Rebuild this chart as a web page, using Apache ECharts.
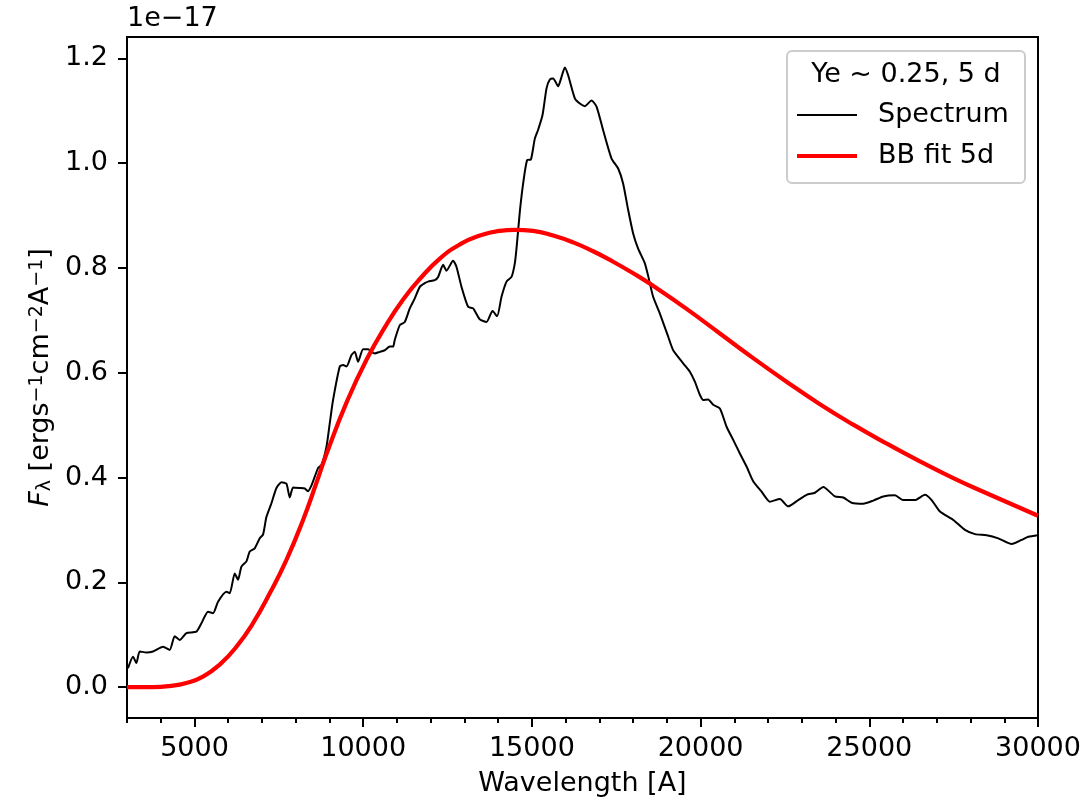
<!DOCTYPE html>
<html>
<head>
<meta charset="utf-8">
<script src="https://cdn.jsdelivr.net/npm/echarts@6/dist/echarts.min.js"></script>
<style>
html,body{margin:0;padding:0;background:#fff;}
#chart{width:1088px;height:802px;}
</style>
</head>
<body>
<div id="chart"></div>
<script>
// Spectrum (wavelength in Angstrom, flux in units of 1e-17)
const specWave = [3030,3178,3279,3377,3575,3771,4067,4266,4414,4562,4761,5057,5206,5401,5550,5698,5947,6045,6193,6291,6392,6540,6638,6786,6934,7032,7133,7281,7429,7578,7726,7824,7922,8120,8268,8366,8467,8663,8763,8912,9010,9107,9306,9404,9505,9653,9751,9849,9997,10145,10246,10343,10492,10640,10788,10886,10937,11085,11233,11381,11529,11678,11826,11924,12122,12221,12369,12468,12665,12766,12914,13110,13258,13457,13655,13833,13969,14100,14248,14396,14494,14545,14642,14740,14859,14969,15087,15185,15315,15434,15532,15630,15778,15879,15977,16075,16273,16421,16569,16768,16916,17112,17361,17557,17705,17853,18001,18149,18348,18446,18594,18793,19039,19188,19484,19682,19830,19978,20077,20225,20373,20572,20770,20966,21164,21363,21559,21808,22054,22350,22597,22893,23142,23388,23636,23981,24228,24476,24820,25117,25413,25760,26006,26353,26649,26848,27094,27489,27835,28132,28478,28823,29220,29516,29713,30000];
const specFlux = [0.036,0.058,0.046,0.068,0.066,0.068,0.077,0.071,0.097,0.090,0.103,0.106,0.122,0.144,0.141,0.163,0.182,0.179,0.217,0.205,0.230,0.240,0.259,0.265,0.284,0.291,0.325,0.351,0.380,0.391,0.388,0.362,0.381,0.380,0.379,0.374,0.385,0.418,0.424,0.459,0.504,0.548,0.612,0.615,0.612,0.634,0.640,0.621,0.645,0.645,0.640,0.637,0.640,0.643,0.650,0.650,0.663,0.691,0.697,0.723,0.742,0.764,0.771,0.774,0.777,0.783,0.806,0.795,0.814,0.802,0.764,0.726,0.723,0.702,0.697,0.718,0.708,0.745,0.774,0.783,0.809,0.838,0.907,0.961,1.006,1.007,1.047,1.064,1.092,1.143,1.160,1.162,1.147,1.165,1.183,1.168,1.124,1.114,1.109,1.120,1.108,1.063,1.009,0.990,0.961,0.911,0.866,0.837,0.809,0.785,0.745,0.713,0.669,0.643,0.618,0.602,0.583,0.558,0.548,0.549,0.539,0.532,0.497,0.472,0.446,0.421,0.393,0.373,0.354,0.359,0.345,0.357,0.367,0.371,0.382,0.364,0.362,0.352,0.350,0.356,0.364,0.366,0.357,0.357,0.367,0.357,0.335,0.319,0.300,0.292,0.290,0.284,0.273,0.281,0.287,0.290];

// Blackbody fit
const bbWave = [3000,3771,4250,4761,5253,5748,6243,6735,7231,7726,8218,8615,8912,9505,10098,10690,11184,11678,12271,12864,13457,14050,14494,15037,15630,16223,16816,17409,18001,18594,19584,20572,21559,22547,23536,24524,25512,26500,27489,28478,30000];
const bbFlux = [0.0,0.0,0.002,0.008,0.020,0.043,0.077,0.122,0.179,0.243,0.319,0.390,0.445,0.543,0.625,0.692,0.740,0.779,0.818,0.845,0.862,0.871,0.873,0.871,0.862,0.849,0.832,0.812,0.790,0.766,0.722,0.675,0.628,0.583,0.540,0.501,0.465,0.431,0.399,0.370,0.327];

const xMajorTicks = [5000,10000,15000,20000,25000,30000];
const yTicks = [0,0.2,0.4,0.6,0.8,1.0,1.2];
const seriesNames = ['Spectrum','BB fit 5d'];
const seriesColors = ['#000000','#ff0000'];
const legendTitle = 'Ye ~ 0.25, 5 d';
const offsetText = '1e\u221217';
const xTitle = 'Wavelength [A]';

const FONT = 'DejaVu Sans';
const FS = 27;
const chart = echarts.init(document.getElementById('chart'), null, {renderer:'canvas'});

const specData = specWave.map((w,i)=>[w,specFlux[i]]);
const bbData = bbWave.map((w,i)=>[w,bbFlux[i]]);

const font = FS + 'px "DejaVu Sans"';

chart.setOption({
  animation:false,
  backgroundColor:'#fff',
  grid:{left:127,right:50,top:37,bottom:84,show:true,borderColor:'#000',borderWidth:2,backgroundColor:'transparent'},
  xAxis:[{
    type:'value',min:3000,max:30000,position:'bottom',
    axisLine:{show:true,onZero:false,lineStyle:{color:'#000',width:2}},
    axisTick:{show:true,customValues:xMajorTicks,length:9,lineStyle:{color:'#000',width:2}},
    axisLabel:{customValues:xMajorTicks,fontFamily:FONT,fontSize:FS,color:'#000',margin:17,
      formatter:v=>String(v)},
    splitLine:{show:false},
    name:xTitle,nameLocation:'middle',nameGap:52,
    nameTextStyle:{fontFamily:FONT,fontSize:FS,color:'#000'}
  },{
    type:'value',min:3000,max:30000,interval:1000,position:'bottom',
    axisLine:{show:false,onZero:false},
    axisTick:{show:true,length:5,lineStyle:{color:'#000',width:2}},
    axisLabel:{show:false},
    splitLine:{show:false}
  }],
  yAxis:{
    type:'value',min:-0.059,max:1.241,
    axisLine:{show:true,onZero:false,lineStyle:{color:'#000',width:2}},
    axisTick:{show:true,customValues:yTicks,length:9,lineStyle:{color:'#000',width:2}},
    axisLabel:{customValues:yTicks,fontFamily:FONT,fontSize:FS,color:'#000',margin:19,
      formatter:v=>v.toFixed(1)},
    splitLine:{show:false},
    name:'{it|F}{sub|\u03bb}{n| [ergs}{sup|\u22121}{n|cm}{sup|\u22122}{n|A}{sup|\u22121}{n|]}',
    nameLocation:'middle',nameGap:72,nameRotate:90,
    nameTextStyle:{fontFamily:FONT,fontSize:FS,color:'#000',
      rich:{
        n:{fontFamily:FONT,fontSize:FS,color:'#000'},
        it:{fontFamily:FONT,fontSize:FS,fontStyle:'italic',color:'#000'},
        sub:{fontFamily:FONT,fontSize:19,color:'#000',verticalAlign:'bottom'},
        sup:{fontFamily:FONT,fontSize:19,color:'#000',verticalAlign:'top'}
      }}
  },
  graphic:[
    {type:'rect',shape:{x:787,y:51,width:238,height:132,r:5},
     style:{fill:'rgba(255,255,255,0.8)',stroke:'#cccccc',lineWidth:2},z:50},
    {type:'text',x:906,y:75,style:{text:legendTitle,font:font,fill:'#000',textAlign:'center',textVerticalAlign:'middle'},z:60},
    {type:'line',shape:{x1:797,y1:115,x2:857,y2:115},style:{stroke:seriesColors[0],lineWidth:2},z:60},
    {type:'text',x:878,y:115,style:{text:seriesNames[0],font:font,fill:'#000',textAlign:'left',textVerticalAlign:'middle'},z:60},
    {type:'line',shape:{x1:797,y1:156,x2:857,y2:156},style:{stroke:seriesColors[1],lineWidth:4.2},z:60},
    {type:'text',x:878,y:156,style:{text:seriesNames[1],font:font,fill:'#000',textAlign:'left',textVerticalAlign:'middle'},z:60},
    {type:'text',x:127,y:19,style:{text:offsetText,font:font,fill:'#000',textAlign:'left',textVerticalAlign:'middle'},z:60}
  ],
  series:[
    {name:seriesNames[0],type:'line',data:specData,symbol:'none',smooth:0.2,
     lineStyle:{color:seriesColors[0],width:2},itemStyle:{color:seriesColors[0]},z:3,clip:true},
    {name:seriesNames[1],type:'line',data:bbData,symbol:'none',smooth:0.5,
     lineStyle:{color:seriesColors[1],width:4.2},itemStyle:{color:seriesColors[1]},z:4,clip:true}
  ]
});
</script>
</body>
</html>
